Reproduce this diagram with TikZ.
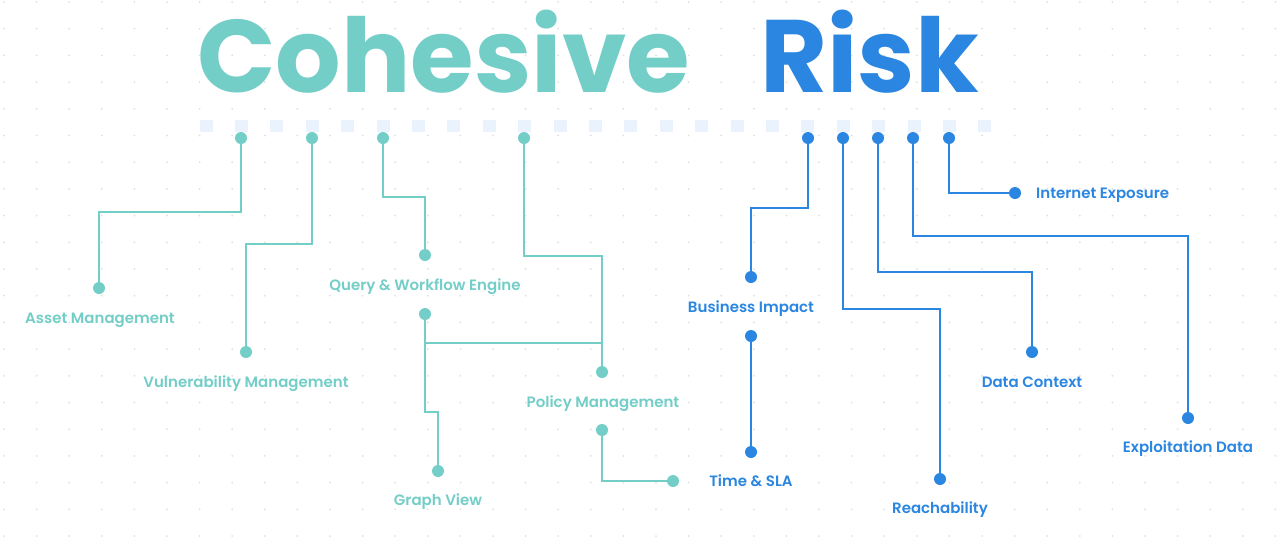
\documentclass[tikz,border=0pt]{standalone}
\usepackage{fontspec}
\setmainfont{Poppins}
\newfontfamily\titlefont{Poppins}[UprightFont={* Bold}]
\newfontfamily\labelfont{Poppins}[UprightFont={* SemiBold}]
\usetikzlibrary{positioning,calc}
\definecolor{cohteal}{HTML}{74CEC8}
\definecolor{riskblue}{HTML}{2A86E0}
\definecolor{slotblue}{HTML}{EAF3FD}
\definecolor{griddot}{HTML}{E0E0E0}

\begin{document}
\begin{tikzpicture}[x=1pt,y=-1pt,
  wire/.style={line width=2.7pt,line join=miter},
  pin/.style={circle,fill,inner sep=0pt,minimum size=12pt},
  lbl/.style={font=\labelfont\fontsize{15}{18}\selectfont,inner sep=0pt,anchor=base},
  slot/.style={fill=slotblue,inner sep=0pt,minimum width=13pt,minimum height=12pt}]
  \fill[white] (0,0) rectangle (1280,550);
  \useasboundingbox (0,0) rectangle (1280,550);
  % dotted backdrop
  \foreach \i in {0,...,39} \foreach \j in {0,...,20}
    \fill[griddot] ({4+32.6*\i},{2+26.7*\j}) circle (1pt);
  % title
  \node[font=\titlefont\fontsize{103}{110}\selectfont,text=cohteal,anchor=base west,inner sep=0pt] (coh) at (197,92) {Cohesive};
  \node[font=\titlefont\fontsize{103}{110}\selectfont,text=riskblue,anchor=base west,inner sep=0pt] (risk) at (760,92) {Risk};
  % slot row
  \foreach \k in {0,...,22} \node[slot] (s\k) at ({206+35.4*\k},126) {};

  % cohesive side
  \begin{scope}[cohteal]
    \node[pin] (c1) at (241,138) {};
    \node[pin] (c2) at (312,138) {};
    \node[pin] (c3) at (383,138) {};
    \node[pin] (c4) at (524,138) {};
    \node[pin] (am) at (99,288) {};
    \node[pin] (vm) at (246,352) {};
    \node[pin] (qw) at (425,255) {};
    \node[pin] (qw2) at (425,314) {};
    \node[pin] (pm) at (602,372) {};
    \node[pin] (pm2) at (602,430) {};
    \node[pin] (gv) at (438,471) {};
    \node[pin] (tp) at (673,481) {};
    \coordinate (am-b) at (99,212);
    \coordinate (vm-b) at (246,244);
    \coordinate (qw-b) at (425,197);
    \coordinate (pm-b) at (602,256);
    \coordinate (j1) at (425,343);
    \coordinate (gv-b) at (438,412);
    \draw[wire] (c1) |- (am-b) -- (am);
    \draw[wire] (c2) |- (vm-b) -- (vm);
    \draw[wire] (c3) |- (qw-b) -- (qw);
    \draw[wire] (c4) |- (pm-b) -- (pm);
    \draw[wire] (qw2) -- (j1) -- (j1 -| pm);
    \draw[wire] (j1) |- (gv-b) -- (gv);
    \draw[wire] (pm2) |- (tp);
    \node[lbl,text=cohteal] (am-l) at (100,323) {Asset Management};
    \node[lbl,text=cohteal] (vm-l) at (246,387) {Vulnerability Management};
    \node[lbl,text=cohteal] (qw-l) at (425,290) {Query \& Workflow Engine};
    \node[lbl,text=cohteal] (pm-l) at (603,407) {Policy Management};
    \node[lbl,text=cohteal] (gv-l) at (438,505) {Graph View};
  \end{scope}

  % risk side
  \begin{scope}[riskblue]
    \node[pin] (r1) at (808,138) {};
    \node[pin] (r2) at (843,138) {};
    \node[pin] (r3) at (878,138) {};
    \node[pin] (r4) at (913,138) {};
    \node[pin] (r5) at (949,138) {};
    \node[pin] (bi) at (751,277) {};
    \node[pin] (bi2) at (751,336) {};
    \node[pin] (ts) at (751,452) {};
    \node[pin] (re) at (940,479) {};
    \node[pin] (dc) at (1032,352) {};
    \node[pin] (ed) at (1188,418) {};
    \node[pin] (ie) at (1015,193) {};
    \coordinate (bi-b) at (751,208);
    \coordinate (re-b) at (940,309);
    \coordinate (dc-b) at (1032,272);
    \coordinate (ed-b) at (1188,236);
    \draw[wire] (r1) |- (bi-b) -- (bi);
    \draw[wire] (bi2) -- (ts);
    \draw[wire] (r2) |- (re-b) -- (re);
    \draw[wire] (r3) |- (dc-b) -- (dc);
    \draw[wire] (r4) |- (ed-b) -- (ed);
    \draw[wire] (r5) |- (ie);
    \node[lbl,text=riskblue] (bi-l) at (751,312) {Business Impact};
    \node[lbl,text=riskblue] (ts-l) at (751,486) {Time \& SLA};
    \node[lbl,text=riskblue] (re-l) at (940,513) {Reachability};
    \node[lbl,text=riskblue] (dc-l) at (1032,387) {Data Context};
    \node[lbl,text=riskblue] (ed-l) at (1188,452) {Exploitation Data};
    \node[lbl,text=riskblue,anchor=base west] (ie-l) at (1036,198) {Internet Exposure};
  \end{scope}
\end{tikzpicture}
\end{document}
